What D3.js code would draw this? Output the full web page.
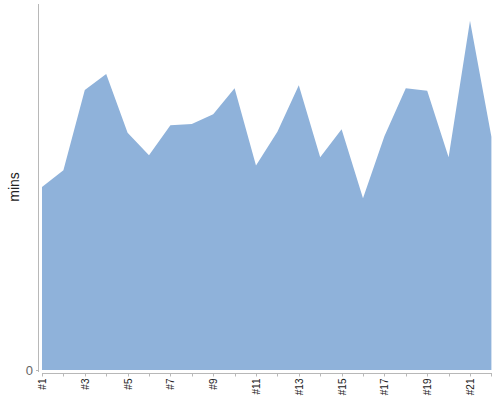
<!DOCTYPE html>
<html><head><meta charset="utf-8">
<script src="https://cdn.jsdelivr.net/npm/d3@7"></script>
<style>body{margin:0;background:#fff;} svg{display:block;font-family:"Liberation Sans",Arial,sans-serif;}</style>
</head><body>
<svg id="c" width="500" height="400"></svg>
<script>
const categories = ["#1","#2","#3","#4","#5","#6","#7","#8","#9","#10","#11","#12","#13","#14","#15","#16","#17","#18","#19","#20","#21","#22"];
const values = [50.0,54.6,76.5,80.9,64.8,58.7,66.9,67.2,69.9,77.0,55.9,65.1,77.8,58.1,65.8,46.9,63.9,77.0,76.3,58.1,95.4,63.7];
const yTicks = [0];
const yLabel = "mins";

const svg = d3.select("#c");
const x = d3.scalePoint().domain(categories).range([42, 491.4]);
const y = d3.scaleLinear().domain([0, 100]).range([370, 4]);

const area = d3.area().x(d => x(d.c)).y0(y(0)).y1(d => y(d.v));
const data = categories.map((c, i) => ({c, v: values[i]}));
svg.append("path").datum(data).attr("d", area).attr("fill", "#8fb2da");

// y axis line
svg.append("line").attr("x1", 38.5).attr("x2", 38.5).attr("y1", 4).attr("y2", 372)
  .attr("stroke", "#b8b8b8");
yTicks.forEach(t => {
  svg.append("line").attr("x1", 36).attr("x2", 38.5).attr("y1", y(t)+0.5).attr("y2", y(t)+0.5).attr("stroke", "#b8b8b8");
  svg.append("text").attr("x", 33).attr("y", y(t)+4.5).attr("text-anchor", "end")
    .attr("font-size", 13).attr("fill", "#666").text(t);
});

// x axis
const gx = svg.append("g").attr("transform", "translate(0,373.5)");
gx.append("line").attr("x1", 42).attr("x2", 492).attr("stroke", "#b8b8b8");
categories.forEach((c, i) => {
  const px = Math.round(x(c)) + 0.5;
  gx.append("line").attr("x1", px).attr("x2", px).attr("y1", 0).attr("y2", 3).attr("stroke", "#b8b8b8");
  if (i % 2 === 0) {
    gx.append("text").attr("transform", `translate(${px + 3.5},5) rotate(-90)`)
      .attr("text-anchor", "end").attr("font-size", 10).attr("fill", "#222").text(c);
  }
});

svg.append("text").attr("transform", "translate(19,187) rotate(-90)").attr("text-anchor", "middle")
  .attr("font-size", 14).attr("fill", "#222").text(yLabel);
</script>
</body></html>
